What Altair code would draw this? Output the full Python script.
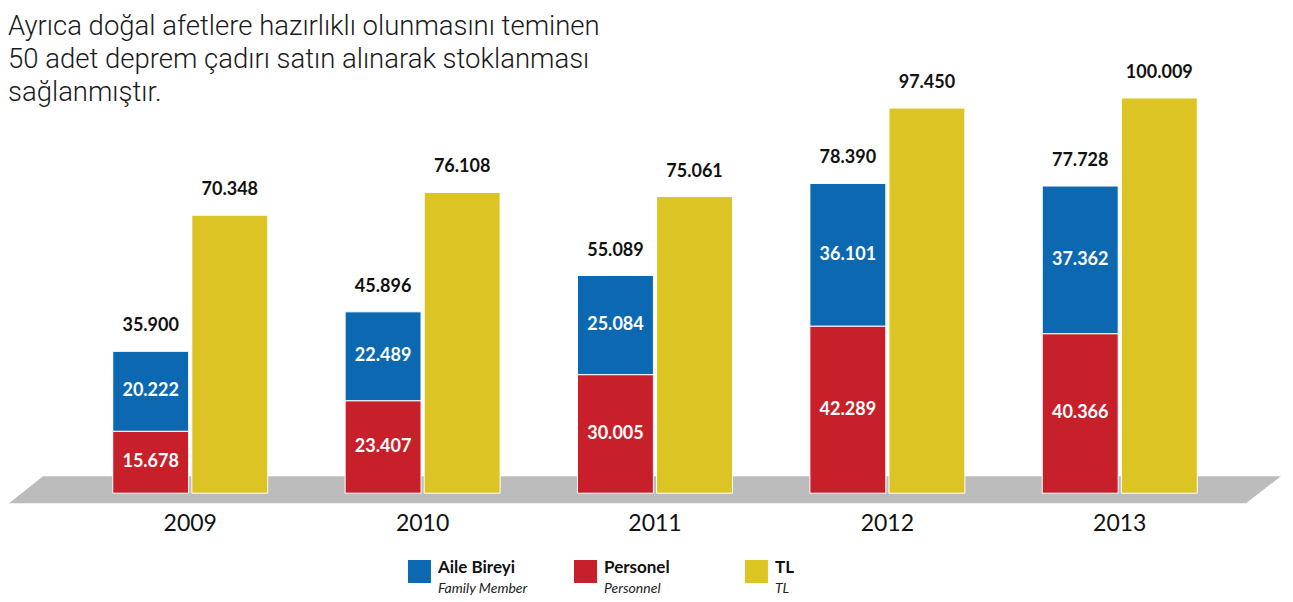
import altair as alt
import pandas as pd

# ---- data ----
years = ["2009", "2010", "2011", "2012", "2013"]
aile = [20222, 22489, 25084, 36101, 37362]
personel = [15678, 23407, 30005, 42289, 40366]
tl = [70348, 76108, 75061, 97450, 100009]

series_tr = ["Aile Bireyi", "Personel", "TL"]
series_en = ["Family Member", "Personnel", "TL"]
series_colors = ["#0b68b1", "#c8202a", "#dbc424"]

title_lines = [
    "Ayrıca doğal afetlere hazırlıklı olunmasını teminen",
    "50 adet deprem çadırı satın alınarak stoklanması",
    "sağlanmıştır.",
]

# ---- layout constants ----
W, H = 1162, 490
PAD = {"left": 66, "top": 11, "right": 49, "bottom": 89}
Y_DOMAIN = [-4000, 120000]
LEGEND_X = [0.2973, 0.4402, 0.5873]
FLOOR_Y = [-2530, 4300]
FLOOR_LEFT = [-0.0559, -0.0267]
FLOOR_RIGHT = [1.0086, 1.0387]


def fmt(v):
    return f"{v:,}".replace(",", ".")


rows = []
for i, yr in enumerate(years):
    p, a, t = personel[i], aile[i], tl[i]
    rows.append(dict(year=yr, grp="A", series="Personel", y0=0, y1=p, mid=p / 2, label=fmt(p)))
    rows.append(dict(year=yr, grp="A", series="Aile Bireyi", y0=p, y1=p + a, mid=p + a / 2, label=fmt(a)))
    rows.append(dict(year=yr, grp="B", series="TL", y0=0, y1=t, mid=t / 2, label=fmt(t)))
bars = pd.DataFrame(rows)
seg = bars[bars["grp"] == "A"]

tot_rows = []
for i, yr in enumerate(years):
    s = personel[i] + aile[i]
    tot_rows.append(dict(year=yr, grp="A", v=s, label=fmt(s)))
    tot_rows.append(dict(year=yr, grp="B", v=tl[i], label=fmt(tl[i])))
totals = pd.DataFrame(tot_rows)

legend_df = pd.DataFrame(dict(tr=series_tr, en=series_en, c=series_colors, px=LEGEND_X))
floor_df = pd.DataFrame(dict(fy=FLOOR_Y, xl=FLOOR_LEFT, xr=FLOOR_RIGHT))
title_df = pd.DataFrame(dict(k=[0]))

yscale = alt.Scale(domain=Y_DOMAIN, nice=False, zero=False)
xscale = alt.Scale(domain=years, paddingInner=0.333, paddingOuter=0.1667)
xo = alt.XOffset("grp:N", scale=alt.Scale(domain=["A", "B"], paddingInner=0.04, paddingOuter=0))
color_scale = alt.Scale(domain=series_tr, range=series_colors)

x_axis = alt.Axis(labelFont="Lato", labelFontSize=23, labelColor="#111111", domain=False,
                  ticks=False, labelPadding=3, labelAngle=0, title=None, grid=False)
X = alt.X("year:N", scale=xscale, axis=x_axis)

bar_layer = alt.Chart(bars).mark_bar(stroke="white", strokeWidth=1).encode(
    x=X,
    xOffset=xo,
    y=alt.Y("y0:Q", scale=yscale, axis=None),
    y2="y1:Q",
    color=alt.Color("series:N", scale=color_scale, legend=None),
)

seg_text = alt.Chart(seg).mark_text(font="Lato", fontWeight="bold", fontSize=18,
                                    color="white", baseline="middle").encode(
    x=X,
    xOffset=xo,
    y=alt.Y("mid:Q", scale=yscale, axis=None),
    text="label:N",
)

tot_text = alt.Chart(totals).mark_text(font="Lato", fontWeight="bold", fontSize=18,
                                       color="#111111", baseline="alphabetic", dy=-20).encode(
    x=X,
    xOffset=xo,
    y=alt.Y("v:Q", scale=yscale, axis=None),
    text="label:N",
)

inner = alt.layer(bar_layer, seg_text, tot_text)

qx = alt.Scale(domain=[0, 1], nice=False, zero=False)

floor = alt.Chart(floor_df).mark_area(orient="horizontal", color="#bcbcbc").encode(
    y=alt.Y("fy:Q", scale=yscale, axis=None),
    x=alt.X("xl:Q", scale=qx, axis=None),
    x2="xr:Q",
)

leg_sq = alt.Chart(legend_df).mark_square(size=529, opacity=1).encode(
    x=alt.X("px:Q", scale=qx, axis=None),
    y=alt.value(552.5),
    color=alt.Color("c:N", scale=None, legend=None),
)
leg_tr = alt.Chart(legend_df).mark_text(align="left", baseline="middle", dx=18.5, font="Lato",
                                        fontWeight="bold", fontSize=17, color="#111111").encode(
    x=alt.X("px:Q", scale=qx, axis=None),
    y=alt.value(549),
    text="tr:N",
)
leg_en = alt.Chart(legend_df).mark_text(align="left", baseline="middle", dx=18.5, font="Lato",
                                        fontStyle="italic", fontSize=14, color="#222222").encode(
    x=alt.X("px:Q", scale=qx, axis=None),
    y=alt.value(570),
    text="en:N",
)

title = alt.Chart(title_df).mark_text(align="left", baseline="alphabetic", font="Roboto",
                                      fontWeight=300, fontSize=27.5, lineHeight=33,
                                      color="#1a1a1a").encode(
    x=alt.value(-66),
    y=alt.value(16),
    text=alt.value(title_lines),
)

deco = alt.layer(floor, leg_sq, leg_tr, leg_en, title)

chart = alt.layer(deco, inner).resolve_scale(x="independent").properties(
    width=W, height=H, padding=PAD, autosize=alt.AutoSizeParams(type="none"),
    background="white",
).configure_view(stroke=None, strokeWidth=0)

chart.save("out.html", embed_options={"renderer": "svg", "actions": False})
